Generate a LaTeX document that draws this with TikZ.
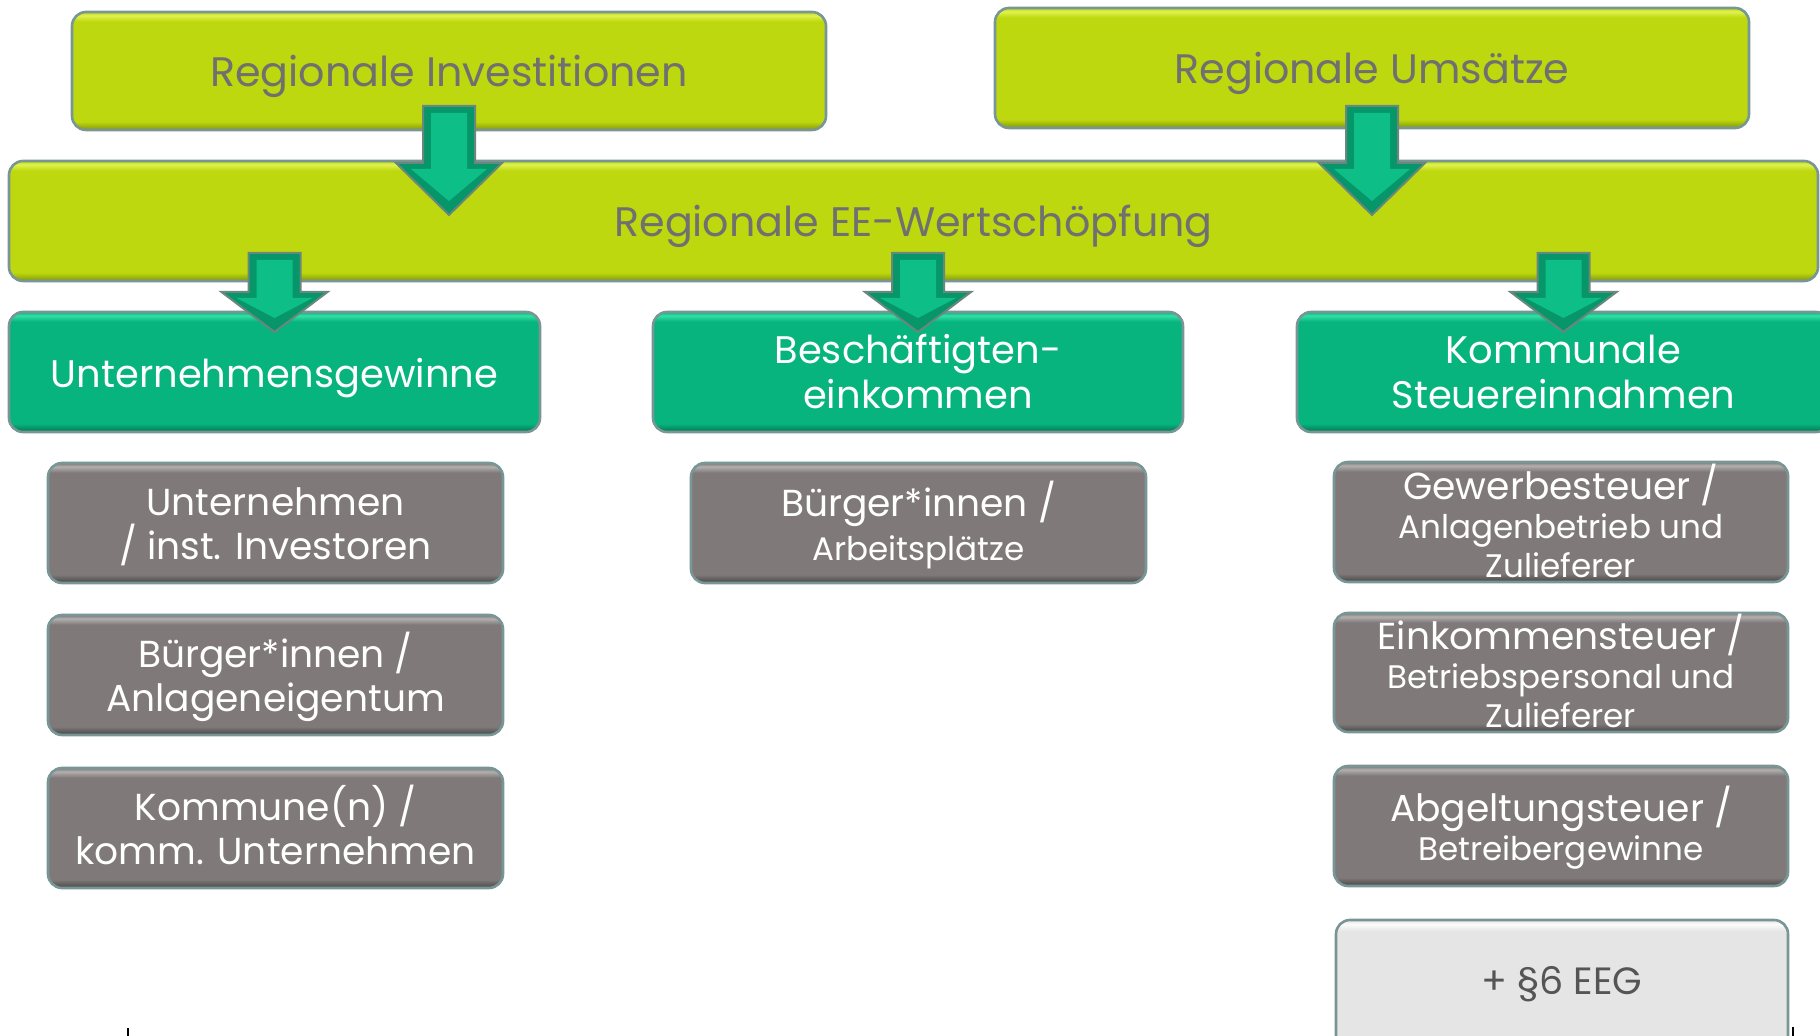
\documentclass[tikz,border=0pt]{standalone}
\usepackage{fontspec}
\setmainfont{Poppins}
\usetikzlibrary{calc}
\definecolor{limeB}{RGB}{189,216,14}
\definecolor{limeL}{RGB}{225,242,80}
\definecolor{limeD}{RGB}{130,150,10}
\definecolor{greenB}{RGB}{8,180,125}
\definecolor{greenL}{RGB}{50,225,165}
\definecolor{greenD}{RGB}{5,115,80}
\definecolor{grayB}{RGB}{128,121,121}
\definecolor{grayL}{RGB}{180,176,176}
\definecolor{grayD}{RGB}{70,70,70}
\definecolor{paleB}{RGB}{229,229,229}
\definecolor{paleL}{RGB}{252,252,252}
\definecolor{paleD}{RGB}{175,175,175}
\definecolor{edge}{RGB}{120,150,150}
\definecolor{limetext}{RGB}{112,112,112}
\definecolor{paletext}{RGB}{85,85,85}
\definecolor{arrowD}{RGB}{6,150,105}
\definecolor{arrowM}{RGB}{14,190,135}
\definecolor{arrowE}{RGB}{105,135,125}
\pgfdeclareverticalshading{limesh}{100bp}{color(0bp)=(limeD); color(25bp)=(limeD); color(28.5bp)=(limeB); color(71bp)=(limeB); color(73.5bp)=(limeL); color(75bp)=(limeB); color(100bp)=(limeB)}
\pgfdeclareverticalshading{greensh}{100bp}{color(0bp)=(greenD); color(25bp)=(greenD); color(28.5bp)=(greenB); color(71bp)=(greenB); color(73.5bp)=(greenL); color(75bp)=(greenB); color(100bp)=(greenB)}
\pgfdeclareverticalshading{graysh}{100bp}{color(0bp)=(grayD); color(25bp)=(grayD); color(28.5bp)=(grayB); color(71bp)=(grayB); color(73.5bp)=(grayL); color(75bp)=(grayB); color(100bp)=(grayB)}
\pgfdeclareverticalshading{palesh}{100bp}{color(0bp)=(paleD); color(25bp)=(paleD); color(28.5bp)=(paleB); color(71bp)=(paleB); color(73.5bp)=(paleL); color(75bp)=(paleB); color(100bp)=(paleB)}
% \mybox{name}{x1}{y1}{x2}{y2}{box style}{text style}{text}
\newcommand\mybox[8]{%
  \pgfmathsetmacro\cx{(#2+#4)/2}\pgfmathsetmacro\cy{(#3+#5)/2}%
  \pgfmathsetmacro\ww{(#4-#2)*0.5}\pgfmathsetmacro\hh{(#5-#3)*0.5}%
  \node[#6, minimum width=\ww pt, minimum height=\hh pt] (#1) at (\cx,\cy) {};
  \node[#7] (#1-t) at (#1.center) {#8};}
% block arrow: #1 node for x, #2 shaft top y, #3 head start y, #4 tip y
\newcommand\blockarrow[4]{%
  \coordinate (ba) at (#1.center |- 0,#2);
  \draw[arrowE, fill=arrowD, line width=1pt, line join=miter]
    ($(ba)+(-26,0)$) -- ($(ba)+(26,0)$) -- ($(ba)+(26,#3-#2)$) -- ($(ba)+(53,#3-#2)$)
    -- ($(ba)+(0,#4-#2)$) -- ($(ba)+(-53,#3-#2)$) -- ($(ba)+(-26,#3-#2)$) -- cycle;
  \fill[arrowM]
    ($(ba)+(-18,7)$) -- ($(ba)+(18,7)$) -- ($(ba)+(18,#3-#2+6)$) -- ($(ba)+(38,#3-#2+6)$)
    -- ($(ba)+(0,#4-#2-14)$) -- ($(ba)+(-38,#3-#2+6)$) -- ($(ba)+(-18,#3-#2+6)$) -- cycle;
}
\tikzset{
  basebox/.style={rounded corners=7pt, draw=edge, line width=1.3pt, inner sep=0pt, shade},
  limebox/.style={basebox, shading=limesh},
  greenbox/.style={basebox, shading=greensh},
  graybox/.style={basebox, shading=graysh},
  palebox/.style={basebox, shading=palesh},
  basetext/.style={inner sep=0pt, align=center},
  limetxt/.style={basetext, text=limetext, font=\fontsize{20.6}{24}\selectfont},
  greentxt/.style={basetext, text=white, font=\fontsize{19.2}{22.5}\selectfont},
  graytxt/.style={basetext, text=white, font=\fontsize{18.8}{22}\selectfont},
  graysmtxt/.style={basetext, text=white, font=\fontsize{18.8}{19.5}\selectfont},
  paletxt/.style={basetext, text=paletext, font=\fontsize{19}{22}\selectfont},
}
\newcommand\sm{\fontsize{16.3}{19.5}\selectfont}
\begin{document}
\begin{tikzpicture}[x=0.5pt, y=-0.5pt]
\useasboundingbox (0,0) rectangle (1820,1036);
\clip (0,0) rectangle (1820,1036);
\fill[white] (0,0) rectangle (1820,1036);
% top boxes
\mybox{inv}{72}{12}{826}{130}{limebox}{limetxt, yshift=-2.9pt}{Regionale Investitionen}
\mybox{ums}{995}{8}{1749}{128}{limebox}{limetxt, yshift=-2.9pt}{Regionale Umsätze}
\mybox{ee}{9}{161}{1818}{281}{limebox}{limetxt, yshift=-2.9pt}{Regionale EE-Wertschöpfung}
% green boxes
\mybox{ug}{9}{312}{540}{432}{greenbox}{greentxt, yshift=-2.9pt}{Unternehmensgewinne}
\mybox{be}{653}{312}{1183}{432}{greenbox}{greentxt}{Beschäftigten-\\einkommen}
\mybox{ks}{1297}{312}{1830}{432}{greenbox}{greentxt}{Kommunale\\Steuereinnahmen}
% left gray boxes
\mybox{l1}{48}{463}{503}{583}{graybox}{graytxt, yshift=-2pt}{Unternehmen\\/ inst. Investoren}
\mybox{l2}{48}{615}{503}{735}{graybox}{graytxt, yshift=-1pt}{Bürger*innen /\\Anlageneigentum}
\mybox{l3}{48}{768}{503}{888}{graybox}{graytxt, yshift=1.5pt}{Kommune(n) /\\komm. Unternehmen}
% middle gray box
\mybox{m1}{691}{463}{1146}{583}{graybox}{graytxt, yshift=-1pt}{Bürger*innen /\\{\sm Arbeitsplätze}}
% right gray boxes
\mybox{r1}{1334}{462}{1788}{582}{graybox}{graysmtxt, yshift=0.6pt}{Gewerbesteuer /\\{\sm Anlagenbetrieb und}\\{\sm Zulieferer}}
\mybox{r2}{1334}{613}{1788}{732}{graybox}{graysmtxt, yshift=1pt}{Einkommensteuer /\\{\sm Betriebspersonal und}\\{\sm Zulieferer}}
\mybox{r3}{1334}{766}{1788}{886}{graybox}{graysmtxt, yshift=-1pt}{Abgeltungsteuer /\\{\sm Betreibergewinne}}
\mybox{r4}{1336}{920}{1788}{1060}{palebox}{paletxt, yshift=3pt}{+ §6 EEG}
% arrows
\blockarrow{inv}{106}{163}{215}
\blockarrow{ums}{106}{163}{215}
\blockarrow{ug}{253}{292}{332}
\blockarrow{be}{253}{292}{332}
\blockarrow{ks}{253}{292}{332}
% small ticks at the bottom edge
\coordinate (t1) at (128,1028);
\coordinate (t2) at (1793,1027);
\draw[black, line width=1pt] (t1) -- ++(0,10);
\draw[black, line width=1pt] (t2) -- ++(0,10);
\end{tikzpicture}
\end{document}
